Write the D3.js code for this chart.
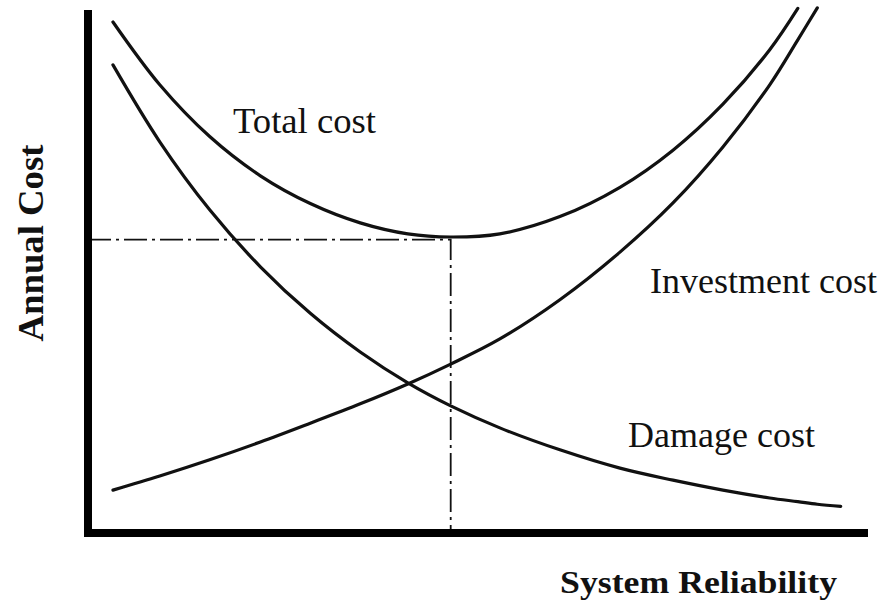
<!DOCTYPE html>
<html>
<head>
<meta charset="utf-8">
<script src="https://cdn.jsdelivr.net/npm/d3@7"></script>
<style>
  html, body { margin: 0; padding: 0; background: #fff; }
  svg { display: block; }
  text { font-family: "Liberation Serif", "Times New Roman", serif; fill: #111; }
</style>
</head>
<body>
<svg id="chart" width="890" height="603"></svg>
<script>
// ---- data ----
const reliability = [3.2, 9.2, 15.6, 22.1, 28.5, 34.9, 41.0, 46.5, 52.8, 60.5, 68.2, 75.0, 81.4, 87.4, 91.0, 93.5, 96.5];
const damageCost = [89.5, 74.8, 61.8, 50.9, 42.0, 34.6, 28.7, 24.3, 20.1, 15.9, 12.4, 10.1, 8.2, 6.7, 6.0, 5.5, 5.1];
const investmentCost = [8.2, 10.9, 14.0, 17.4, 21.0, 24.7, 28.5, 32.3, 37.1, 44.6, 53.7, 63.1, 73.8, 85.7, 94.3, 100.4, null];
const totalCost = [97.7, 85.7, 75.8, 68.3, 63.0, 59.3, 57.2, 56.6, 57.2, 60.5, 66.1, 73.2, 82.0, 92.4, 100.3, null, null];
const optimumReliability = 46.5;
const optimumCost = 56.1;
const seriesLabels = ["Total cost", "Investment cost", "Damage cost"];
const axisTitles = ["System Reliability", "Annual Cost"];

// ---- chart ----
const svg = d3.select("#chart");
const x = d3.scaleLinear().domain([0, 100]).range([88, 868]);
const y = d3.scaleLinear().domain([0, 100]).range([533, 10]);

const line = d3.line()
  .defined(d => d[1] !== null)
  .x(d => x(d[0]))
  .y(d => y(d[1]))
  .curve(d3.curveCatmullRom.alpha(0.5));

function pts(vals) { return reliability.map((r, i) => [r, vals[i]]); }

// dash-dot guide lines
svg.append("path")
  .attr("d", `M${x(0)},${y(optimumCost)}H${x(optimumReliability)}V${y(0)}`)
  .attr("fill", "none")
  .attr("stroke", "#111")
  .attr("stroke-width", 1.8)
  .attr("stroke-dasharray", "23,5,3,5");

// curves
[totalCost, investmentCost, damageCost].forEach(vals => {
  svg.append("path")
    .attr("d", line(pts(vals)))
    .attr("fill", "none")
    .attr("stroke", "#111")
    .attr("stroke-width", 3.2)
    .attr("stroke-linecap", "round");
});

// axes (no ticks)
svg.append("path")
  .attr("d", `M${x(0)},${y(100)}V${y(0)}H${x(100)}`)
  .attr("fill", "none")
  .attr("stroke", "#000")
  .attr("stroke-width", 8)
  .attr("stroke-linejoin", "miter")
  .attr("stroke-linecap", "butt");

// curve labels
const labelPos = [
  { x: 233, y: 133, w: 143 },
  { x: 650, y: 293, w: 227 },
  { x: 628, y: 447, w: 187 }
];
seriesLabels.forEach((t, i) => {
  svg.append("text")
    .attr("x", labelPos[i].x)
    .attr("y", labelPos[i].y)
    .attr("font-size", 36)
    .attr("textLength", labelPos[i].w)
    .attr("lengthAdjust", "spacingAndGlyphs")
    .text(t);
});

// axis titles
svg.append("text")
  .attr("x", 560)
  .attr("y", 593)
  .attr("font-size", 32)
  .attr("font-weight", "bold")
  .attr("textLength", 277)
  .attr("lengthAdjust", "spacingAndGlyphs")
  .text(axisTitles[0]);

svg.append("text")
  .attr("transform", "translate(43,243) rotate(-90)")
  .attr("text-anchor", "middle")
  .attr("font-size", 36)
  .attr("font-weight", "bold")
  .attr("textLength", 197)
  .attr("lengthAdjust", "spacingAndGlyphs")
  .text(axisTitles[1]);
</script>
</body>
</html>
